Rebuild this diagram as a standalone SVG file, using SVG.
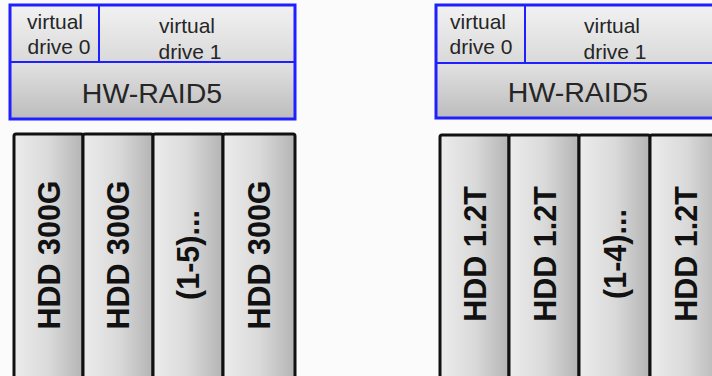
<svg xmlns="http://www.w3.org/2000/svg" width="712" height="376" viewBox="0 0 712 376">
<defs>
<linearGradient id="gv" x1="0" y1="0" x2="0" y2="1"><stop offset="0" stop-color="#f2f2f2"/><stop offset="1" stop-color="#d9d9d9"/></linearGradient>
<linearGradient id="gr" x1="0" y1="0" x2="0" y2="1"><stop offset="0" stop-color="#e2e2e2"/><stop offset="1" stop-color="#bcbcbc"/></linearGradient>
<linearGradient id="gd" x1="0" y1="0" x2="1" y2="0"><stop offset="0" stop-color="#ececec"/><stop offset="0.5" stop-color="#dadada"/><stop offset="1" stop-color="#b4b4b4"/></linearGradient>
<style>
.box{stroke:#1f1fff;stroke-width:3;fill:none}
.div{stroke:#1f1fff;stroke-width:2}
.hdd{fill:url(#gd);stroke:#111;stroke-width:3}
.t{font-family:"Liberation Sans",Arial,sans-serif;fill:#262626;text-anchor:middle}
.vd{font-size:21px}
.raid{font-size:28.5px}
.ht{font-size:30.5px;font-weight:bold;fill:#111}
</style>
</defs>
<rect width="712" height="376" fill="#fbfbfb"/>
<g id="raid-left">
<rect x="10" y="5" width="89" height="57" fill="url(#gv)"/>
<rect x="99" y="5" width="196" height="57" fill="url(#gv)"/>
<rect x="10" y="62" width="285" height="57" fill="url(#gr)"/>
<rect class="box" x="10" y="5" width="285" height="114"/>
<line class="div" x1="10" y1="62" x2="295" y2="62"/>
<line class="div" x1="99" y1="5" x2="99" y2="62"/>
<text class="t vd" x="55" y="29">virtual</text>
<text class="t vd" x="59" y="54">drive 0</text>
<text class="t vd" x="187" y="33">virtual</text>
<text class="t vd" x="190" y="59">drive 1</text>
<text class="t raid" x="152" y="103">HW-RAID5</text>
</g>
<g id="raid-right">
<rect x="436" y="5" width="89" height="58" fill="url(#gv)"/>
<rect x="525" y="5" width="196" height="58" fill="url(#gv)"/>
<rect x="436" y="63" width="285" height="55" fill="url(#gr)"/>
<rect class="box" x="436" y="5" width="285" height="113"/>
<line class="div" x1="436" y1="63" x2="721" y2="63"/>
<line class="div" x1="525" y1="5" x2="525" y2="63"/>
<text class="t vd" x="478" y="29">virtual</text>
<text class="t vd" x="481" y="54">drive 0</text>
<text class="t vd" x="612" y="33">virtual</text>
<text class="t vd" x="615" y="59">drive 1</text>
<text class="t raid" x="578" y="102">HW-RAID5</text>
</g>
<g id="hdd-l1"><rect class="hdd" x="14" y="134" width="69" height="250" rx="2"/><text class="t ht" transform="translate(60,255) rotate(-90)">HDD 300G</text></g>
<g id="hdd-l2"><rect class="hdd" x="83" y="134" width="70" height="250" rx="2"/><text class="t ht" transform="translate(129,255) rotate(-90)">HDD 300G</text></g>
<g id="hdd-l3"><rect class="hdd" x="153" y="134" width="70" height="250" rx="2"/><text class="t ht" transform="translate(199,255) rotate(-90)">(1-5)...</text></g>
<g id="hdd-l4"><rect class="hdd" x="223" y="134" width="72" height="250" rx="2"/><text class="t ht" transform="translate(270,255) rotate(-90)">HDD 300G</text></g>
<g id="hdd-r1"><rect class="hdd" x="440" y="135" width="69" height="250" rx="2"/><text class="t ht" transform="translate(486,254) rotate(-90)">HDD 1.2T</text></g>
<g id="hdd-r2"><rect class="hdd" x="509" y="135" width="70" height="250" rx="2"/><text class="t ht" transform="translate(556,254) rotate(-90)">HDD 1.2T</text></g>
<g id="hdd-r3"><rect class="hdd" x="579" y="135" width="71" height="250" rx="2"/><text class="t ht" transform="translate(626,254) rotate(-90)">(1-4)...</text></g>
<g id="hdd-r4"><rect class="hdd" x="650" y="135" width="72" height="250" rx="2"/><text class="t ht" transform="translate(697,254) rotate(-90)">HDD 1.2T</text></g>
<g id="connectors"/>
</svg>
